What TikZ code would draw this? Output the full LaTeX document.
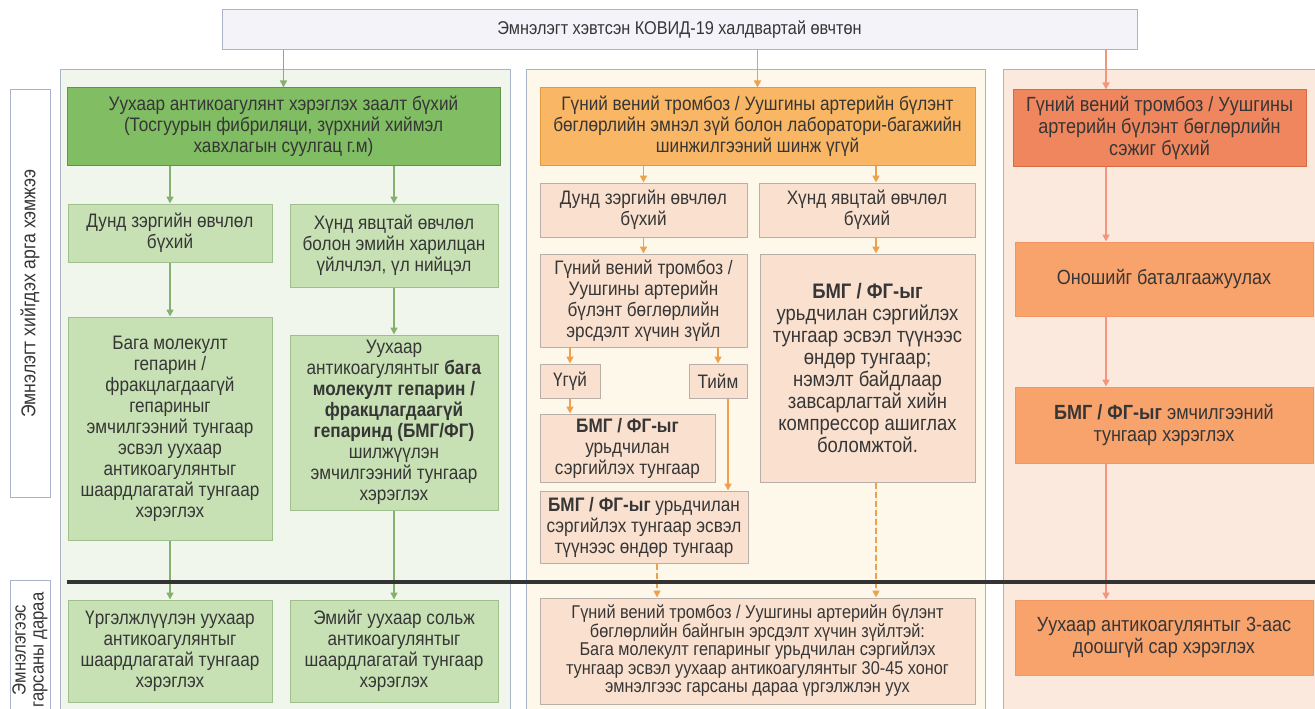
\documentclass[tikz,border=0pt]{standalone}
\usepackage{fontspec}
\setmainfont{Liberation Sans}[FakeStretch=0.88]
\usetikzlibrary{arrows.meta}
\definecolor{txt}{HTML}{363636}
\definecolor{frame}{HTML}{AAB4C8}
\definecolor{topfill}{HTML}{F4F3FA}
\definecolor{gdark}{HTML}{80BD63}
\definecolor{gdarkline}{HTML}{5E9648}
\definecolor{glight}{HTML}{C7E1B4}
\definecolor{glightline}{HTML}{9FC08C}
\definecolor{lpanel}{HTML}{F0F6EC}
\definecolor{mpanel}{HTML}{FEF8EB}
\definecolor{rpanel}{HTML}{FCE9DD}
\definecolor{odark}{HTML}{F9B664}
\definecolor{odarkline}{HTML}{E3993F}
\definecolor{peach}{HTML}{FAE1CF}
\definecolor{peachline}{HTML}{B9AFA8}
\definecolor{coral}{HTML}{F0865E}
\definecolor{coralline}{HTML}{D66A45}
\definecolor{salmon}{HTML}{F8A26C}
\definecolor{salmonline}{HTML}{F29566}
\definecolor{garr}{HTML}{86B06E}
\definecolor{oarr}{HTML}{EFA04C}
\definecolor{sarr}{HTML}{F2957A}
\tikzset{
  box/.style={draw,line width=1pt,align=center,inner sep=0pt,text=txt,
    font=\fontsize{19.5}{21}\selectfont},
  lab/.style={box,draw=frame,fill=white},
  gbig/.style={box,draw=gdarkline,fill=gdark},
  gbox/.style={box,draw=glightline,fill=glight},
  obig/.style={box,draw=odarkline,fill=odark},
  obox/.style={box,draw=peachline,fill=peach},
  rbig/.style={box,draw=coralline,fill=coral,font=\fontsize{20.5}{22}\selectfont},
  rbox/.style={box,draw=salmonline,fill=salmon,font=\fontsize{20.5}{22}\selectfont},
  panel/.style={draw=frame,line width=1pt},
  garrow/.style={->,draw=garr,fill=garr,line width=1.6pt},
  oarrow/.style={->,draw=oarr,fill=oarr,line width=1.6pt},
  sarrow/.style={->,draw=sarr,fill=sarr,line width=1.6pt},
  dashes/.style={dash pattern=on 6pt off 3pt}
}
\begin{document}
\begin{tikzpicture}[x=1pt,y=-1pt,>={Triangle[length=7pt,width=7pt]}]
\useasboundingbox (0,0) rectangle (1315,709);
\clip (0,0) rectangle (1315,709);
\fill[white] (0,0) rectangle (1315,709);
% panels
\draw[panel,fill=lpanel] (60,70) rectangle (510,720);
\draw[panel,fill=mpanel] (526,70) rectangle (985,720);
\draw[panel,fill=rpanel] (1003,70) rectangle (1325,720);
\node[lab,fill=topfill,font=\fontsize{18.5}{22}\selectfont,minimum width=915,minimum height=40] (top) at (679.5,30) {Эмнэлэгт хэвтсэн КОВИД-19 халдвартай өвчтөн};
\node[lab,rotate=90,font=\fontsize{20}{22}\selectfont,minimum width=407,minimum height=40] (lab1) at (30,293.5) {Эмнэлэгт хийгдэх арга хэмжээ};
\node[lab,rotate=90,font=\fontsize{19}{18}\selectfont,minimum width=140,minimum height=40] (lab2) at (30,650) {Эмнэлэгээс\\гарсаны дараа};

% left column
\node[gbig,minimum width=433,minimum height=77] (G0) at (283.5,126.5) {Уухаар антикоагулянт хэрэглэх заалт бүхий\\(Тосгуурын фибриляци, зүрхний хиймэл\\хавхлагын суулгац г.м)};
\node[gbox,minimum width=204,minimum height=58] (L1) at (170,233) {Дунд зэргийн өвчлөл\\бүхий};
\node[gbox,minimum width=208,minimum height=83] (L2) at (394,245.5) {Хүнд явцтай өвчлөл\\болон эмийн харилцан\\үйлчлэл, үл нийцэл};
\node[gbox,minimum width=204,minimum height=223] (L3) at (170,428.5) {Бага молекулт\\гепарин /\\фракцлагдаагүй\\гепариныг\\эмчилгээний тунгаар\\эсвэл уухаар\\антикоагулянтыг\\шаардлагатай тунгаар\\хэрэглэх};
\node[gbox,minimum width=208,minimum height=175] (L4) at (394,422.5) {Уухаар\\антикоагулянтыг \textbf{бага}\\\textbf{молекулт гепарин /}\\\textbf{фракцлагдаагүй}\\\textbf{гепаринд (БМГ/ФГ)}\\шилжүүлэн\\эмчилгээний тунгаар\\хэрэглэх};
\node[gbox,minimum width=204,minimum height=102] (L5) at (170,651) {Үргэлжлүүлэн уухаар\\антикоагулянтыг\\шаардлагатай тунгаар\\хэрэглэх};
\node[gbox,minimum width=208,minimum height=102] (L6) at (394,651) {Эмийг уухаар сольж\\антикоагулянтыг\\шаардлагатай тунгаар\\хэрэглэх};

% middle column
\node[obig,minimum width=435,minimum height=77] (M0) at (757.5,126.5) {Гүний вений тромбоз / Уушгины артерийн бүлэнт\\бөглөрлийн эмнэл зүй болон лаборатори-багажийн\\шинжилгээний шинж үгүй};
\node[obox,minimum width=207,minimum height=54] (M1) at (643.5,210) {Дунд зэргийн өвчлөл\\бүхий};
\node[obox,minimum width=216,minimum height=54] (M2) at (867,210) {Хүнд явцтай өвчлөл\\бүхий};
\node[obox,minimum width=207,minimum height=93] (M3) at (643.5,300.5) {Гүний вений тромбоз /\\Уушгины артерийн\\бүлэнт бөглөрлийн\\эрсдэлт хүчин зүйл};
\node[obox,minimum width=60,minimum height=34] (ugui) at (570,381) {Үгүй};
\node[obox,minimum width=58,minimum height=34] (tiim) at (718,381) {Тийм};
\node[obox,minimum width=175,minimum height=68] (M5) at (627.5,448) {\textbf{БМГ / ФГ-ыг}\\урьдчилан\\сэргийлэх тунгаар};
\node[obox,minimum width=208,minimum height=72] (M6) at (644,527) {\textbf{БМГ / ФГ-ыг} урьдчилан\\сэргийлэх тунгаар эсвэл\\түүнээс өндөр тунгаар};
\node[obox,font=\fontsize{21}{22}\selectfont,minimum width=215,minimum height=228] (M4) at (867.5,368) {\textbf{БМГ / ФГ-ыг}\\урьдчилан сэргийлэх\\тунгаар эсвэл түүнээс\\өндөр тунгаар;\\нэмэлт байдлаар\\завсарлагтай хийн\\компрессор ашиглах\\боломжтой.};
\node[obox,font=\fontsize{18.5}{18.5}\selectfont,minimum width=435,minimum height=106] (M7) at (757.5,651) {Гүний вений тромбоз / Уушгины артерийн бүлэнт\\бөглөрлийн байнгын эрсдэлт хүчин зүйлтэй:\\Бага молекулт гепариныг урьдчилан сэргийлэх\\тунгаар эсвэл уухаар антикоагулянтыг 30-45 хоног\\эмнэлгээс гарсаны дараа үргэлжлэн уух};

% right column
\node[rbig,minimum width=293,minimum height=76] (R0) at (1159.5,128) {Гүний вений тромбоз / Уушгины\\артерийн бүлэнт бөглөрлийн\\сэжиг бүхий};
\node[rbox,minimum width=298,minimum height=74] (R1) at (1164,279) {Оношийг баталгаажуулах};
\node[rbox,minimum width=298,minimum height=76] (R2) at (1164,425) {\textbf{БМГ / ФГ-ыг} эмчилгээний\\тунгаар хэрэглэх};
\node[rbox,minimum width=298,minimum height=75] (R3) at (1164,637.5) {Уухаар антикоагулянтыг 3-аас\\доошгүй сар хэрэглэх};

% connectors
\coordinate (yes) at (728,0);
\coordinate (dsh) at (657,0);
\coordinate (mx) at (876,0);
\coordinate (rx) at (1106,0);
\draw[garrow] (top.south -| G0.north) -- (G0.north);
\foreach \b in {L1,L2}
    \draw[garrow] (G0.south -| \b.north) -- (\b.north);
\foreach \a/\b in {L1/L3,L2/L4,L3/L5,L4/L6}
    \draw[garrow] (\a.south) -- (\b.north);
\draw[oarrow] (top.south -| M0.north) -- (M0.north);
\draw[oarrow] (M0.south -| M1.north) -- (M1.north);
\draw[oarrow] (M0.south -| mx) -- (M2.north -| mx);
\draw[oarrow] (M1.south) -- (M3.north);
\draw[oarrow] (M2.south -| mx) -- (M4.north -| mx);
\foreach \b in {ugui,tiim}
    \draw[oarrow] (M3.south -| \b.north) -- (\b.north);
\draw[oarrow] (ugui.south) -- (ugui.south |- M5.north);
\draw[oarrow] (tiim.south -| yes) -- (M6.north -| yes);
\draw[oarrow,dashes] (M6.south -| dsh) -- (M7.north -| dsh);
\draw[oarrow,dashes] (M4.south -| mx) -- (M7.north -| mx);
\draw[sarrow] (top.south -| rx) -- (R0.north -| rx);
\foreach \a/\b in {R0/R1,R1/R2,R2/R3}
    \draw[sarrow] (\a.south -| rx) -- (\b.north -| rx);
% separator
\draw[line width=4pt,black!80] (67,582) -- (1320,582);
\end{tikzpicture}
\end{document}
